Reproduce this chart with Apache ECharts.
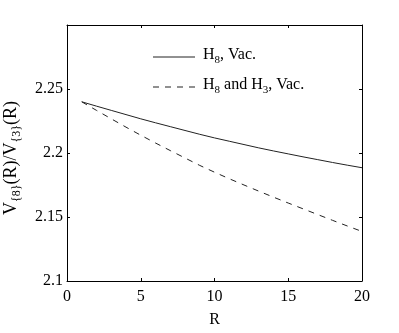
<!DOCTYPE html>
<html><head><meta charset="utf-8">
<script src="https://cdn.jsdelivr.net/npm/echarts@6/dist/echarts.min.js"></script>
<style>html,body{margin:0;padding:0;background:#fff}#c{width:399px;height:333px}</style>
</head><body><div id="c"></div>
<script>
var R = [1,2,3,4,5,6,7,8,9,10,11,12,13,14,15,16,17,18,19,20];
var h8Vac = [2.2400,2.2366,2.2333,2.2300,2.2267,2.2236,2.2206,2.2176,2.2146,2.2118,2.2092,2.2066,2.2040,2.2016,2.1993,2.1970,2.1948,2.1926,2.1905,2.1885];
var h8h3Vac = [2.2400,2.2333,2.2267,2.2202,2.2139,2.2078,2.2019,2.1961,2.1903,2.1850,2.1799,2.1750,2.1702,2.1655,2.1609,2.1564,2.1519,2.1474,2.1430,2.1387];
var xTicks = [0,5,10,15,20];
var yTicks = [2.1,2.15,2.2,2.25];
var names = ['H8, Vac.','H8 and H3, Vac.'];
var yLabelParts = [['V',0],['{8}',1],['(R)/V',0],['{3}',1],['(R)',0]];

var FONT = "'Liberation Serif', 'Times New Roman', 'DejaVu Serif', serif";
function pairs(v){ return R.map(function(r,i){ return [r, v[i]]; }); }

var cv = document.createElement('canvas').getContext('2d');
function w(t, size){ cv.font = size+'px '+FONT; return cv.measureText(t).width; }
var pieces = [], xpos = 0;
yLabelParts.forEach(function(p){
  var size = p[1] ? 12 : 18;
  pieces.push({type:'text', x:xpos, y:p[1] ? 6 : 0,
    style:{text:p[0], fill:'#000', font:size+'px '+FONT, verticalAlign:'middle'}});
  xpos += w(p[0], size);
});
var totalW = xpos;

var chart = echarts.init(document.getElementById('c'), null, {renderer:'canvas'});
var axisBase = {
  axisLine:{show:true, onZero:false, lineStyle:{color:'#000', width:1}},
  axisTick:{show:true, inside:true, length:3, lineStyle:{color:'#000'}},
  splitLine:{show:false}
};
var rich = {s:{fontFamily:FONT, fontSize:11, padding:[10,0,0,0], color:'#000'}};
chart.setOption({
  animation:false,
  grid:{left:67, right:37, top:25, bottom:42, show:false},
  xAxis:[
    Object.assign({type:'value', min:0, max:20, interval:5, position:'bottom',
      name:'R', nameLocation:'middle', nameGap:31,
      nameTextStyle:{fontFamily:FONT, fontSize:16, color:'#000'},
      axisLabel:{fontFamily:FONT, fontSize:16, color:'#000', margin:8}}, axisBase),
    Object.assign({type:'value', min:0, max:20, interval:5, position:'top', axisLabel:{show:false}}, axisBase)
  ],
  yAxis:[
    Object.assign({type:'value', min:2.1, max:2.3, interval:0.05, position:'left',
      axisLabel:{fontFamily:FONT, fontSize:16, color:'#000', margin:4, showMaxLabel:false,
        formatter:function(v){ var s = yTicks.filter(function(t){return Math.abs(t-v)<1e-9;}); return s.length? String(s[0]) : ''; }}}, axisBase),
    Object.assign({type:'value', min:2.1, max:2.3, interval:0.05, position:'right', axisLabel:{show:false}}, axisBase)
  ],
  series:[
    {type:'line', name:names[0], data:pairs(h8Vac), showSymbol:false, symbol:'none',
      lineStyle:{color:'#222', width:1, type:'solid'}},
    {type:'line', name:names[1], data:pairs(h8h3Vac), showSymbol:false, symbol:'none',
      lineStyle:{color:'#222', width:1, type:[6,6]}}
  ],
  graphic:[
    {type:'group', x:11, y:158 + totalW/2, rotation:Math.PI/2, children:pieces, z:10},
    {type:'line', shape:{x1:153, y1:57, x2:195, y2:57}, style:{stroke:'#222', lineWidth:1}},
    {type:'line', shape:{x1:153, y1:87, x2:195, y2:87}, style:{stroke:'#222', lineWidth:1, lineDash:[6,6]}},
    {type:'text', left:203, top:47, style:{text:'H{s|8}, Vac.', fill:'#000', font:'16px '+FONT, rich:rich}},
    {type:'text', left:203, top:77, style:{text:'H{s|8} and H{s|3}, Vac.', fill:'#000', font:'16px '+FONT, rich:rich}}
  ]
});
</script></body></html>
